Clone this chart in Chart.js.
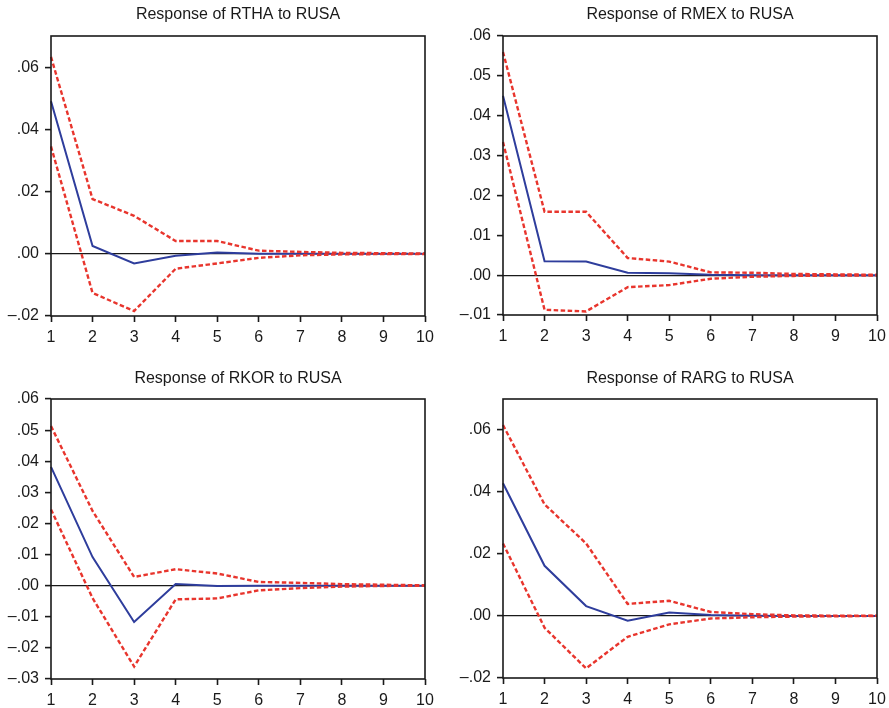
<!DOCTYPE html>
<html>
<head>
<meta charset="utf-8">
<script src="https://cdn.jsdelivr.net/npm/chart.js@4/dist/chart.umd.min.js"></script>
<style>
  html, body { margin: 0; padding: 0; background: #fff; }
  #wrap { position: relative; width: 889px; height: 708px; }
  canvas { position: absolute; }
</style>
</head>
<body>
<div id="wrap">
  <canvas id="c1" width="444" height="348" style="left:0;top:0"></canvas>
  <canvas id="c2" width="444" height="348" style="left:444px;top:0"></canvas>
  <canvas id="c3" width="444" height="348" style="left:0;top:360px"></canvas>
  <canvas id="c4" width="444" height="348" style="left:444px;top:360px"></canvas>
</div>
<script>
// horizon (periods after the shock)
const periods = ['1', '2', '3', '4', '5', '6', '7', '8', '9', '10'];

// RTHA to RUSA
const rthaResp  = [0.0490, 0.0025, -0.0031, -0.0006, 0.0004, 0.0000, 0.0000, 0.0000, 0.0000, 0.0000];
const rthaUpper = [0.0633, 0.0176, 0.0122, 0.0041, 0.0041, 0.0010, 0.0006, 0.0003, 0.0002, 0.0001];
const rthaLower = [0.0345, -0.0126, -0.0184, -0.0048, -0.0031, -0.0013, -0.0005, -0.0002, -0.0001, -0.0001];
const rthaTicks = [-0.02, 0.00, 0.02, 0.04, 0.06];

// RMEX to RUSA
const rmexResp  = [0.0450, 0.0035, 0.0034, 0.0006, 0.0005, 0.0001, 0.0000, 0.0000, 0.0000, 0.0000];
const rmexUpper = [0.0560, 0.0159, 0.0159, 0.0043, 0.0034, 0.0007, 0.0006, 0.0003, 0.0002, 0.0001];
const rmexLower = [0.0334, -0.0087, -0.0091, -0.0030, -0.0025, -0.0009, -0.0004, -0.0002, -0.0001, -0.0001];
const rmexTicks = [-0.01, 0.00, 0.01, 0.02, 0.03, 0.04, 0.05, 0.06];

// RKOR to RUSA
const rkorResp  = [0.0382, 0.0092, -0.0117, 0.0005, -0.0001, 0.0000, 0.0000, 0.0000, 0.0000, 0.0000];
const rkorUpper = [0.0513, 0.0240, 0.0028, 0.0053, 0.0039, 0.0012, 0.0009, 0.0005, 0.0003, 0.0001];
const rkorLower = [0.0245, -0.0040, -0.0260, -0.0044, -0.0041, -0.0015, -0.0008, -0.0003, -0.0001, 0.0000];
const rkorTicks = [-0.03, -0.02, -0.01, 0.00, 0.01, 0.02, 0.03, 0.04, 0.05, 0.06];

// RARG to RUSA
const rargResp  = [0.0428, 0.0162, 0.0032, -0.0015, 0.0011, 0.0003, 0.0001, 0.0000, 0.0000, 0.0000];
const rargUpper = [0.0616, 0.0360, 0.0234, 0.0039, 0.0049, 0.0013, 0.0006, 0.0002, 0.0001, 0.0001];
const rargLower = [0.0234, -0.0038, -0.0169, -0.0067, -0.0027, -0.0008, -0.0004, -0.0002, -0.0001, 0.0000];
const rargTicks = [-0.02, 0.00, 0.02, 0.04, 0.06];

const panels = [
  { id: 'c1', title: 'Response of RTHA to RUSA', resp: rthaResp, upper: rthaUpper, lower: rthaLower, ticks: rthaTicks, min: -0.02, max: 0.07 },
  { id: 'c2', title: 'Response of RMEX to RUSA', resp: rmexResp, upper: rmexUpper, lower: rmexLower, ticks: rmexTicks, min: -0.01, max: 0.06 },
  { id: 'c3', title: 'Response of RKOR to RUSA', resp: rkorResp, upper: rkorUpper, lower: rkorLower, ticks: rkorTicks, min: -0.03, max: 0.06 },
  { id: 'c4', title: 'Response of RARG to RUSA', resp: rargResp, upper: rargUpper, lower: rargLower, ticks: rargTicks, min: -0.02, max: 0.07 }
];

// frame of each panel inside its canvas
const frames = {
  c1: { yWidth: 51, right: 19, top: 36, xHeight: 32, titleY: 19 },
  c2: { yWidth: 59, right: 11, top: 36, xHeight: 33, titleY: 19 },
  c3: { yWidth: 51, right: 19, top: 39, xHeight: 29, titleY: 23 },
  c4: { yWidth: 59, right: 11, top: 39, xHeight: 30, titleY: 23 }
};

const FONT = '"Liberation Sans", Arial, Helvetica, sans-serif';
const RED = '#e8352d';
const BLUE = '#2e3d9c';
const INK = '#1a1a1a';

// EViews style labels: .02, -.01
function fmtTick(v) {
  const s = Math.abs(v).toFixed(2).replace(/^0/, '');
  return v < -1e-9 ? '\u2013' + s : s;
}

// box around the plot + the panel title
const framePlugin = {
  id: 'frameBox',
  afterDraw(chart, args, opts) {
    const a = chart.chartArea;
    const ctx = chart.ctx;
    ctx.save();
    ctx.strokeStyle = INK;
    ctx.lineWidth = 1.6;
    ctx.strokeRect(a.left, a.top, a.right - a.left, a.bottom - a.top);
    ctx.fillStyle = INK;
    ctx.font = '16px ' + FONT;
    ctx.textAlign = 'center';
    ctx.textBaseline = 'alphabetic';
    ctx.fillText(opts.text, (a.left + a.right) / 2, opts.y);
    ctx.restore();
  }
};

panels.forEach(p => {
  const f = frames[p.id];
  new Chart(document.getElementById(p.id), {
    type: 'line',
    data: {
      labels: periods,
      datasets: [
        { data: p.upper, borderColor: RED, borderWidth: 2.4, borderDash: [4.5, 2.5], pointRadius: 0, tension: 0, order: 0 },
        { data: p.lower, borderColor: RED, borderWidth: 2.4, borderDash: [4.5, 2.5], pointRadius: 0, tension: 0, order: 1 },
        { data: p.resp, borderColor: BLUE, borderWidth: 2, pointRadius: 0, tension: 0, order: 2 }
      ]
    },
    options: {
      responsive: false,
      animation: false,
      events: [],
      layout: { padding: { left: 0, right: f.right, top: f.top, bottom: 0 } },
      plugins: {
        legend: { display: false },
        tooltip: { enabled: false },
        title: { display: false },
        frameBox: { text: p.title, y: f.titleY }
      },
      scales: {
        x: {
          offset: false,
          afterFit(scale) {
            scale.height = f.xHeight;
            // let the end labels hang past the plot edge
            scale.paddingLeft = 0;
            scale.paddingRight = 0;
          },
          grid: { color: 'transparent', tickColor: INK, tickLength: 6, tickWidth: 1.6, offset: false },
          border: { display: false },
          ticks: { color: INK, font: { family: FONT, size: 16 }, padding: 6, maxRotation: 0, autoSkip: false }
        },
        y: {
          min: p.min,
          max: p.max,
          afterFit(scale) { scale.width = f.yWidth; },
          afterBuildTicks(scale) { scale.ticks = p.ticks.map(v => ({ value: v })); },
          grid: {
            color: c => Math.abs(c.tick.value) < 1e-9 ? INK : 'transparent',
            lineWidth: 1.2,
            tickColor: INK,
            tickLength: 6,
            tickWidth: 1.6
          },
          border: { display: false },
          ticks: { color: INK, font: { family: FONT, size: 16 }, padding: 6, callback: v => fmtTick(v) }
        }
      }
    },
    plugins: [framePlugin]
  });
});
</script>
</body>
</html>
